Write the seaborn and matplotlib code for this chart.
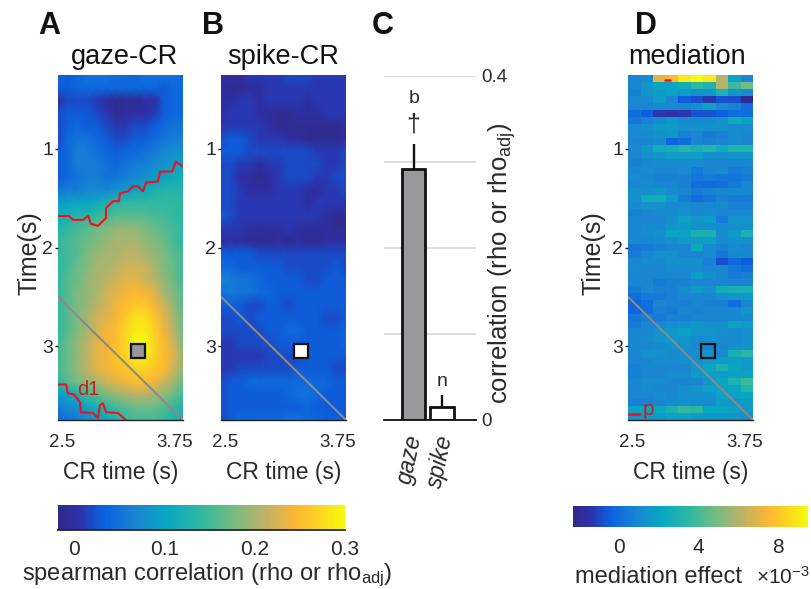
import numpy as np
import matplotlib
matplotlib.use("Agg")
import matplotlib.pyplot as plt
import seaborn as sns
from matplotlib.colors import LinearSegmentedColormap

W, H = 811, 589
sns.set_theme(style="white")
plt.rcParams['font.family'] = ['Liberation Sans', 'DejaVu Sans']
plt.rcParams['mathtext.fontset'] = 'custom'
plt.rcParams['mathtext.rm'] = 'Liberation Sans'
plt.rcParams['mathtext.it'] = 'Liberation Sans:italic'
plt.rcParams['mathtext.default'] = 'regular'
TXT = '#2a2a2a'

# gaze-CR correlation, in units of 0.01 (rows: time, cols: CR time)
gaze_cr = [
 [4,3,4,5,5,5,4,4,4,5,5,5,5,4],
 [3,3,4,4,4,4,4,4,4,4,4,3,4,4],
 [0,2,2,2,1,0,-1,-1,-1,0,0,3,4,4],
 [2,3,3,3,2,1,-1,0,0,0,1,3,4,4],
 [2,3,4,3,3,2,1,1,2,2,3,4,5,5],
 [2,4,5,5,4,3,2,2,3,3,4,5,6,6],
 [3,4,6,6,5,4,3,4,4,5,6,7,8,8],
 [3,4,6,6,6,5,4,5,6,6,7,8,9,10],
 [3,4,5,6,6,5,5,6,7,8,9,10,11,12],
 [5,6,6,7,7,7,8,9,10,11,12,13,13,13],
 [9,10,10,10,11,12,13,14,14,14,14,14,14,14],
 [11,12,13,13,14,15,16,16,16,16,15,15,14,14],
 [13,14,15,16,17,18,19,19,19,18,17,16,15,14],
 [14,15,16,17,18,19,20,20,20,19,18,17,15,14],
 [14,15,16,18,19,20,20,21,21,20,19,18,16,15],
 [14,15,17,18,20,20,21,22,22,22,20,18,17,15],
 [14,16,17,19,20,21,22,23,23,22,21,19,17,15],
 [14,16,18,19,20,22,23,24,25,24,23,20,18,16],
 [14,16,18,19,21,22,24,25,26,26,24,22,19,16],
 [14,16,18,20,22,23,24,26,28,28,26,23,20,17],
 [14,16,18,20,22,24,25,27,29,29,27,24,21,17],
 [15,17,19,21,23,24,25,27,30,30,27,25,22,18],
 [15,17,19,21,23,24,26,27,29,29,27,25,23,19],
 [15,17,19,21,23,24,25,26,27,27,26,25,22,19],
 [14,16,18,19,20,22,23,24,25,25,24,22,20,17],
 [9,10,12,15,16,18,19,20,21,21,20,19,17,15],
 [6,7,8,10,12,13,15,16,17,17,17,16,14,13],
 [4,5,6,7,9,11,12,14,15,15,15,14,13,12],
]
# spike-CR correlation, in units of 0.01
spike_cr = [
 [0,0,0,1,1,1,1,2,2,2,1,1,1,1],
 [0,-1,-1,0,0,1,1,1,1,1,1,1,1,1],
 [0,0,1,1,0,1,1,1,1,0,1,1,1,1],
 [0,1,1,1,0,0,-1,-1,0,0,0,1,1,1],
 [1,1,1,1,1,0,-1,-1,-1,-1,-1,-1,-1,0],
 [2,3,3,2,1,1,1,0,0,-1,-1,-1,-1,0],
 [3,3,3,2,2,2,2,2,2,2,1,1,1,2],
 [2,2,1,1,0,1,1,2,2,2,2,1,1,2],
 [2,2,0,0,-1,0,1,2,2,2,1,1,2,2],
 [2,2,1,0,0,0,1,1,1,0,0,1,1,2],
 [2,2,1,1,1,1,1,1,1,0,1,1,1,1],
 [3,2,1,1,1,1,1,1,1,1,1,0,-1,-1],
 [1,1,1,0,0,0,0,1,0,0,0,0,-1,-1],
 [0,0,0,-1,-1,-1,0,-1,0,-1,-1,0,0,0],
 [3,3,3,3,2,2,2,2,2,2,2,2,2,2],
 [4,4,3,3,3,3,3,2,2,2,2,2,3,2],
 [6,6,5,5,4,3,3,3,3,2,2,3,3,3],
 [5,6,5,5,4,4,3,3,3,3,3,3,3,3],
 [3,3,3,2,2,3,3,2,3,3,3,3,3,3],
 [2,2,3,2,3,3,3,3,3,3,3,2,2,3],
 [2,2,2,2,2,3,3,4,4,3,3,3,3,4],
 [1,1,2,2,2,2,3,3,3,3,3,3,3,4],
 [1,1,1,1,1,2,2,2,2,3,3,3,3,3],
 [1,1,2,2,2,2,2,2,3,3,3,3,2,2],
 [2,3,3,4,4,4,4,4,4,4,4,4,3,3],
 [2,3,3,3,3,3,3,4,5,5,4,3,3,3],
 [2,3,3,3,3,3,3,3,3,4,3,3,3,3],
 [2,3,4,4,4,4,4,5,5,4,4,3,3,3],
]
# mediation effect, in units of 1e-4
mediation = [
 [8,10,70,75,90,95,90,60,20,9],
 [9,15,20,20,25,35,30,60,38,48],
 [7,15,17,20,17,13,15,30,15,10],
 [10,10,18,9,-5,-8,-13,-7,-8,-20],
 [9,9,11,11,9,13,20,10,7,0],
 [0,-5,-13,-15,-13,-7,-7,-5,0,0],
 [3,7,11,15,10,11,11,13,25,20],
 [10,13,17,17,13,13,13,13,11,11],
 [10,11,13,15,7,9,5,7,11,9],
 [9,9,11,-3,0,9,7,9,11,9],
 [10,15,25,28,32,28,32,25,32,32],
 [9,13,15,17,17,17,13,13,15,15],
 [7,9,11,11,11,11,9,9,9,9],
 [9,11,9,9,10,5,9,11,5,7],
 [10,9,7,7,7,3,5,3,3,5],
 [9,11,9,9,7,0,-1,1,5,9],
 [13,13,15,11,9,5,7,9,11,9],
 [13,25,25,17,5,0,3,7,5,5],
 [10,13,13,9,11,9,9,11,7,7],
 [7,9,11,11,13,9,11,9,9,9],
 [9,9,9,13,19,15,17,5,15,15],
 [9,11,11,15,17,13,13,11,13,13],
 [9,11,13,21,19,28,28,11,17,30],
 [9,9,11,13,17,17,19,11,13,13],
 [3,5,7,9,9,23,11,7,11,9],
 [5,9,13,13,9,9,11,3,9,9],
 [9,11,11,13,13,13,7,-8,-1,-5],
 [11,9,9,11,11,11,9,9,3,0],
 [9,9,9,9,9,17,13,9,5,7],
 [9,9,5,7,7,9,9,9,9,9],
 [5,9,7,7,11,17,13,25,28,28],
 [0,5,5,7,9,9,9,13,15,17],
 [-3,0,9,7,7,9,7,7,0,9],
 [-3,0,7,5,9,7,9,9,9,15],
 [3,7,5,7,7,9,9,9,9,11],
 [5,9,9,11,13,15,13,13,19,17],
 [9,9,13,17,19,15,15,13,11,13],
 [9,11,15,17,15,11,13,11,11,13],
 [9,9,11,13,13,11,7,9,13,15],
 [9,13,13,11,11,13,15,11,28,34],
 [9,9,11,11,13,13,17,17,19,17],
 [7,9,9,9,9,15,21,30,21,17],
 [7,9,9,11,11,17,17,17,19,21],
 [9,11,11,9,9,9,15,21,30,38],
 [9,11,9,9,13,15,19,19,21,32],
 [9,9,11,9,13,13,13,19,19,21],
 [7,7,9,11,13,11,11,17,15,17],
 [19,21,23,28,36,34,21,21,19,17],
 [15,17,17,19,19,17,15,15,15,13],
]
contour1_x = [2.50,2.61,2.65,2.75,2.80,2.83,2.90,2.98,2.98,3.05,3.11,3.12,3.20,3.25,3.30,3.35,3.38,3.50,3.52,3.64,3.68,3.75]
contour1_t = [1.68,1.68,1.72,1.72,1.68,1.76,1.78,1.70,1.60,1.53,1.53,1.45,1.43,1.38,1.38,1.43,1.34,1.33,1.23,1.23,1.13,1.18]
contour2_x = [2.50,2.58,2.60,2.66,2.72,2.73,2.85,2.90,2.92,2.95,2.98,3.10,3.18]
contour2_t = [3.39,3.39,3.48,3.49,3.57,3.67,3.68,3.73,3.60,3.58,3.67,3.68,3.75]
peak_cr, peak_t = 3.30, 3.05
bar_names = ['gaze', 'spike']
bar_values = [0.292, 0.015]
bar_upper = [0.32, 0.029]
bar_marks = ['b', 'n']
cbar_ticks_rho = [0, 0.1, 0.2, 0.3]
cbar_ticks_med = [0, 4, 8]

colors = [(0, '#2f2a86'), (0.07, '#2f2fa8'), (0.16, '#0a62e0'), (0.27, '#1a86d2'),
          (0.38, '#08a8c2'), (0.5, '#30b8a0'), (0.6, '#6fbc84'), (0.72, '#bdb268'),
          (0.83, '#feb632'), (0.92, '#fbd820'), (1, '#f6fa0d')]
parula = LinearSegmentedColormap.from_list('parula_like', colors)

fig = plt.figure(figsize=(W / 100, H / 100), dpi=100)
def rect(x0, y0, x1, y1):
    return [x0 / W, 1 - y1 / H, (x1 - x0) / W, (y1 - y0) / H]

def panel(x0, data, vmin, vmax, title, title_x, smooth, ylabel_x, square_face):
    box = rect(x0, 75, x0 + 125, 420)
    ax = fig.add_axes(box)
    arr = np.asarray(data, float)
    if smooth:
        sns.heatmap(arr, ax=ax, cmap=parula, vmin=vmin, vmax=vmax, cbar=False,
                    xticklabels=False, yticklabels=False, shading='gouraud')
        ax.set_xlim(0, arr.shape[1] - 1)
        ax.set_ylim(arr.shape[0] - 1, 0)
    else:
        sns.heatmap(arr, ax=ax, cmap=parula, vmin=vmin, vmax=vmax, cbar=False,
                    xticklabels=False, yticklabels=False)
    for s in ax.spines.values():
        s.set_visible(False)
    ov = fig.add_axes(box, facecolor='none')
    ov.set_xlim(2.5, 3.75)
    ov.set_ylim(3.75, 0.25)
    for s in ['top', 'right', 'left']:
        ov.spines[s].set_visible(False)
    ov.spines['bottom'].set_color('#222222')
    ov.spines['bottom'].set_linewidth(1.0)
    ov.set_xticks([2.54, 3.67], ['2.5', '3.75'], fontsize=13.5, color=TXT)
    ov.set_yticks([1, 2, 3], ['1', '2', '3'], fontsize=14, color=TXT)
    ov.tick_params(axis='y', length=2, width=1, color='k', pad=1.5, left=True)
    ov.tick_params(axis='x', length=0, pad=10)
    ov.set_xlabel('CR time (s)', fontsize=16.5, color=TXT, labelpad=7)
    if ylabel_x is not None:
        ov.set_ylabel('Time(s)', fontsize=18, color=TXT)
        ov.yaxis.set_label_coords((ylabel_x - x0) / 125, 0.485)
    ov.plot([2.5, 3.75], [2.5, 3.75], color='#8a8a88', lw=1.5, zorder=3)
    ov.plot([peak_cr], [peak_t], marker='s', ms=10.5, mfc=square_face, mec='#111111',
            mew=1.6, ls='none', zorder=4)
    fig.text(title_x / W, 1 - 64 / H, title, fontsize=19.5, color='#111111', ha='center')
    return ax, ov

ax_a, ov_a = panel(58, np.array(gaze_cr) / 100, -0.0177, 0.3, 'gaze-CR', 124.5, True, 42, '#98989c')
ax_b, ov_b = panel(221, np.array(spike_cr) / 100, -0.0177, 0.3, 'spike-CR', 283.5, True, None, 'white')
ax_d, ov_d = panel(628, np.array(mediation) / 10, -2.3, 9.5, 'mediation', 687.5, False, 605, 'none')

ov_a.plot(contour1_x, contour1_t, color='#f01020', lw=1.5)
ov_a.plot(contour2_x, contour2_t, color='#f01020', lw=1.5)
ov_a.text(2.80, 3.44, 'd1', color='#c02020', fontsize=14.5, ha='center', va='center')
ov_d.plot([2.5, 2.62], [3.69, 3.69], color='#f01020', lw=1.8)
ov_d.plot([2.87, 2.92], [0.30, 0.30], color='#f01020', lw=1.8)
ov_d.text(2.70, 3.64, 'p', color='#c02020', fontsize=15, ha='center', va='center')

# Panel C
ax_c = fig.add_axes(rect(384, 75.5, 476, 420))
sns.barplot(x=bar_names, y=bar_values, hue=bar_names, palette=['#98989c', 'white'],
            width=0.83, edgecolor='#111111', linewidth=2.0, legend=False, ax=ax_c,
            errorbar=None, zorder=3)
ax_c.set_xlim(-1.05, 2.2)
ax_c.set_ylim(0, 0.4)
ax_c.vlines([0, 1], bar_values, bar_upper, color='#111111', lw=1.7, zorder=4)
ax_c.set_yticks([0, 0.1, 0.2, 0.3, 0.4], ['0', '', '', '', '0.4'], fontsize=13.5, color=TXT)
ax_c.yaxis.tick_right()
ax_c.yaxis.grid(True, color='#dddddd', lw=1.4)
ax_c.xaxis.grid(False)
ax_c.set_axisbelow(True)
ax_c.tick_params(axis='y', length=0, pad=4)
ax_c.tick_params(axis='x', length=0, pad=9)
ax_c.set_xticks([-0.13, 0.93], bar_names, rotation=78, style='italic', fontsize=16.5, color=TXT, ha='center', va='top')
for s in ['top', 'left', 'right']:
    ax_c.spines[s].set_visible(False)
ax_c.spines['bottom'].set_color('#111111')
ax_c.spines['bottom'].set_linewidth(1.3)
ax_c.spines['bottom'].set_zorder(5)
ax_c.text(0, 0.373, bar_marks[0], ha='center', va='center', fontsize=14, color=TXT)
ax_c.text(0, 0.343, '\u2020', ha='center', va='center', fontsize=18, color=TXT)
ax_c.text(1, 0.045, bar_marks[1], ha='center', va='center', fontsize=14, color=TXT)
fig.text(502 / W, 1 - 263 / H, r'correlation (rho or rho$_{adj}$)', rotation=90, fontsize=18.5,
         color=TXT, ha='center', va='center')

# Colorbars
cax1 = fig.add_axes(rect(58, 505, 345, 530))
cb1 = fig.colorbar(ax_a.collections[0], cax=cax1, orientation='horizontal')
cb1.set_ticks(cbar_ticks_rho, labels=['0', '0.1', '0.2', '0.3'])
cb1.outline.set_visible(False)
cax1.spines['bottom'].set_visible(True)
cax1.spines['bottom'].set_color('#222222')
cax1.tick_params(length=0, pad=7, labelsize=15, labelcolor=TXT)
fig.text(207 / W, 1 - 575 / H, r'spearman correlation (rho or rho$_{adj}$)', fontsize=17, color=TXT,
         ha='center', va='center')

cax2 = fig.add_axes(rect(573, 506, 808, 527))
cb2 = fig.colorbar(ax_d.collections[0], cax=cax2, orientation='horizontal')
cb2.set_ticks(cbar_ticks_med, labels=['0', '4', '8'])
cb2.outline.set_visible(False)
cax2.tick_params(length=0, pad=8, labelsize=15, labelcolor=TXT)
fig.text(575 / W, 1 - 577 / H, 'mediation effect', fontsize=17, color=TXT, ha='left', va='center')
fig.text(756 / W, 1 - 577 / H, r'$\times$10$^{-3}$', fontsize=15, color=TXT, ha='left', va='center')

for letter, x in zip('ABCD', [38, 202, 372, 635]):
    fig.text(x / W, 1 - 34 / H, letter, fontsize=22, fontweight='bold', color='#111111', ha='left', va='baseline')

fig.savefig('out.png', dpi=100)
